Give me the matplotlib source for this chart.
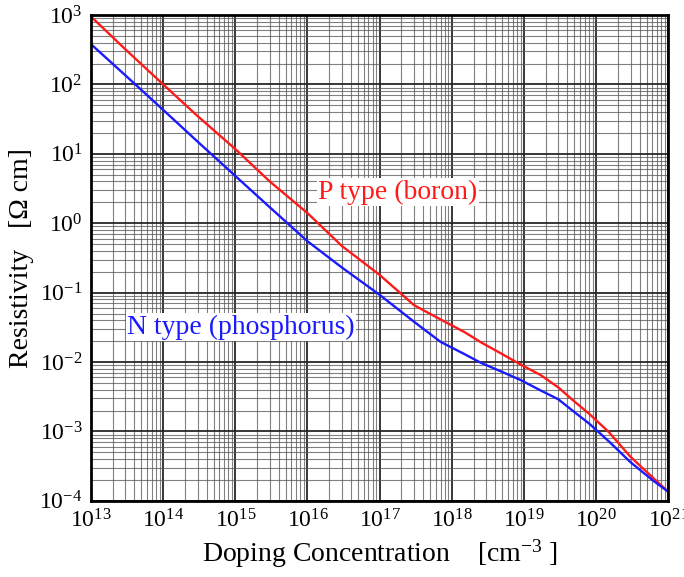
import matplotlib
matplotlib.use("Agg")
import matplotlib.pyplot as plt
from matplotlib.ticker import LogLocator

plt.rcParams["font.family"] = ["Liberation Serif", "DejaVu Serif"]
plt.rcParams["mathtext.fontset"] = "custom"
plt.rcParams["mathtext.rm"] = "Liberation Serif"
plt.rcParams["mathtext.it"] = "Liberation Serif"

# doping concentration (cm^-3)
doping = [1e13, 3e13, 1e14, 3e14, 1e15, 3e15, 1e16, 3e16, 1e17, 3e17,
          7e17, 1.5e18, 2.5e18, 5e18, 9e18, 1.7e19, 3e19, 5e19, 8e19,
          1.5e20, 3e20, 6e20, 1e21]
# resistivity (ohm cm)
rho_p_boron = [950, 320, 100, 35, 11.7, 4.0, 1.4, 0.47, 0.18, 0.066,
               0.041, 0.027, 0.0194, 0.013, 0.0092, 0.0065, 0.0043, 0.0027, 0.0018,
               0.00098, 0.00043, 0.00022, 0.000135]
rho_n_phos = [380, 135, 43, 15, 4.8, 1.7, 0.55, 0.23, 0.093, 0.038,
              0.0195, 0.013, 0.0098, 0.0072, 0.0055, 0.0039, 0.0029, 0.0019, 0.0013,
              0.00072, 0.00036, 0.0002, 0.000135]

x_ticks = [10.0**k for k in range(13, 22)]
x_ticklabels = ["$10^{%d}$" % k for k in range(13, 22)]
y_ticks = [10.0**k for k in range(-4, 4)]
y_ticklabels = ["$10^{%d}$" % k for k in range(-4, 4)]

fig = plt.figure(figsize=(6.84, 5.77), dpi=100)
ax = fig.add_axes([0.133, 0.132, 0.844, 0.842])

ax.plot(doping, rho_p_boron, color="#ff1a1a", linewidth=1.7, zorder=3)
ax.plot(doping, rho_n_phos, color="#1a1aff", linewidth=1.7, zorder=3)

ax.set_xscale("log")
ax.set_yscale("log")
ax.set_xlim(1e13, 1e21)
ax.set_ylim(1e-4, 1e3)

ax.xaxis.set_minor_locator(LogLocator(base=10, subs=range(2, 10), numticks=50))
ax.yaxis.set_minor_locator(LogLocator(base=10, subs=range(2, 10), numticks=50))
ax.set_xticks(x_ticks)
ax.set_xticklabels(x_ticklabels)
ax.set_yticks(y_ticks)
ax.set_yticklabels(y_ticklabels)

ax.grid(which="major", color="#222222", linewidth=1.4, alpha=0.9)
ax.grid(which="minor", color="#555555", linewidth=0.8, alpha=0.75)
ax.tick_params(which="both", length=0, labelsize=17, pad=6)

for s in ax.spines.values():
    s.set_linewidth(2)
    s.set_zorder(5)

ax.set_xlabel("Doping Concentration    [cm$^{-3}$ ]", fontsize=20, labelpad=4)
ax.set_ylabel("Resistivity   [\u03a9 cm]", fontsize=20, labelpad=4)

ax.text(1.8e17, 2.8, "P type (boron)", color="#ff1a1a", fontsize=20,
        ha="center", va="center", zorder=4,
        bbox=dict(facecolor="white", edgecolor="none", pad=1))
ax.text(1.2e15, 0.032, "N type (phosphorus)", color="#1a1aff", fontsize=20,
        ha="center", va="center", zorder=4,
        bbox=dict(facecolor="white", edgecolor="none", pad=1))

fig.savefig("out.png", dpi=100)
